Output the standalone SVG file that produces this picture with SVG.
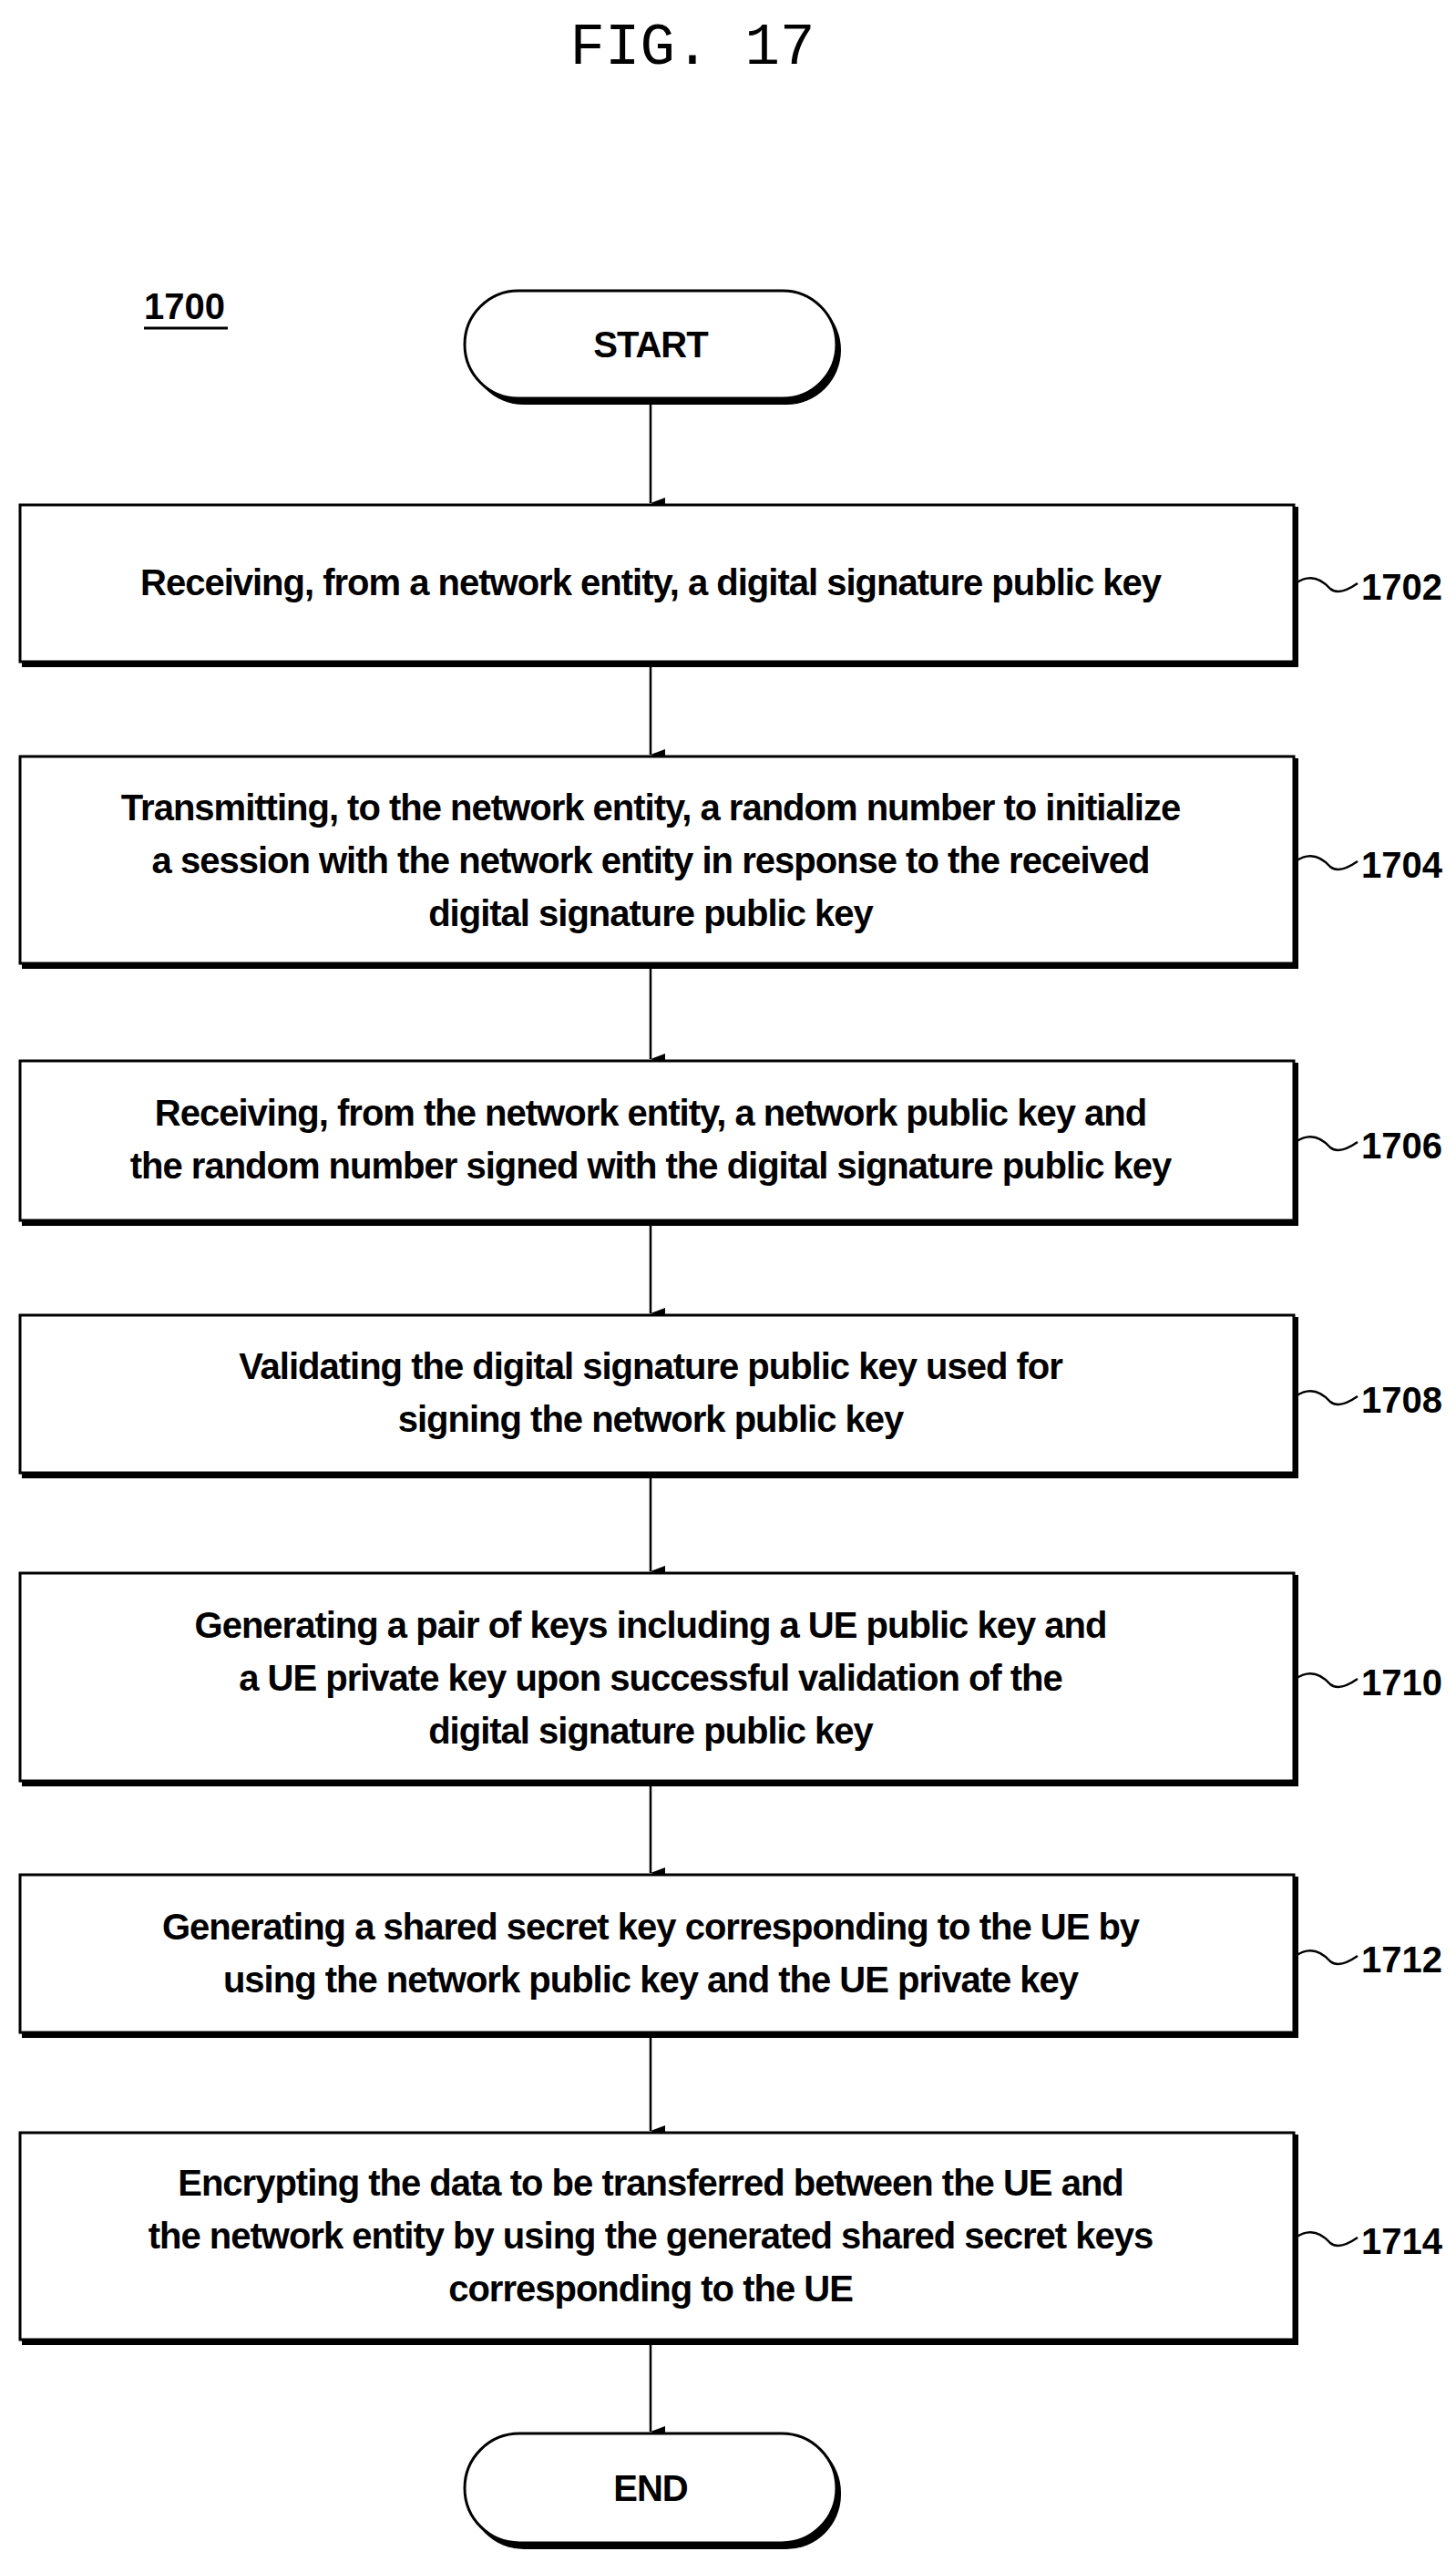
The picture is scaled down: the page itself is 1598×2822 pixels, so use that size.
<svg xmlns="http://www.w3.org/2000/svg" width="1598" height="2822" viewBox="0 0 1598 2822">
<style>
.b{fill:#fff;stroke:#000;stroke-width:3}
.s{fill:#000}
.t{font-family:"Liberation Sans",Arial,sans-serif;font-size:40px;fill:#000;text-anchor:middle;font-weight:bold;letter-spacing:-1px}
.l{font-family:"Liberation Sans",Arial,sans-serif;font-size:40px;fill:#000;font-weight:bold}
.c{fill:none;stroke:#000;stroke-width:2.5}
</style>
<defs><marker id="a" markerWidth="12" markerHeight="16" refX="6" refY="16" orient="auto-start-reverse" markerUnits="userSpaceOnUse" viewBox="0 0 12 16"><path d="M0,0 L12,0 L6,16 Z" fill="#000"/></marker></defs>
<rect width="1598" height="2822" fill="#fff"/>
<text x="760" y="70" font-family="Liberation Mono,monospace" font-size="64" text-anchor="middle">FIG. 17</text>
<g id="ref1700"><text class="l" x="158" y="350">1700</text><line x1="158" y1="360" x2="250" y2="360" stroke="#000" stroke-width="3"/></g>
<g id="connectors">
<line class="c" x1="714" y1="440" x2="714" y2="552" marker-end="url(#a)"/>
<line class="c" x1="714" y1="730" x2="714" y2="828" marker-end="url(#a)"/>
<line class="c" x1="714" y1="1062" x2="714" y2="1162" marker-end="url(#a)"/>
<line class="c" x1="714" y1="1343" x2="714" y2="1441" marker-end="url(#a)"/>
<line class="c" x1="714" y1="1621" x2="714" y2="1724" marker-end="url(#a)"/>
<line class="c" x1="714" y1="1959" x2="714" y2="2055" marker-end="url(#a)"/>
<line class="c" x1="714" y1="2235" x2="714" y2="2338" marker-end="url(#a)"/>
<line class="c" x1="714" y1="2572" x2="714" y2="2668" marker-end="url(#a)"/>
</g>
<g id="start"><rect class="s" x="515" y="324" width="408" height="120" rx="60"/><rect class="b" x="510" y="319" width="408" height="118" rx="59"/><text class="t" x="714" y="392">START</text></g>
<g id="n1702"><rect class="s" x="24" y="556" width="1401" height="176"/><rect class="b" x="22" y="554" width="1398" height="172"/><text class="t" x="714" y="653">Receiving, from a network entity, a digital signature public key</text><path class="c" d="M1422,640 q20,-14 38,6 q10,8 30,-6"/><text class="l" x="1494" y="658">1702</text></g>
<g id="n1704"><rect class="s" x="24" y="832" width="1401" height="231"/><rect class="b" x="22" y="830" width="1398" height="227"/><text class="t" x="714" y="900">Transmitting, to the network entity, a random number to initialize</text><text class="t" x="714" y="958">a session with the network entity in response to the received</text><text class="t" x="714" y="1016">digital signature public key</text><path class="c" d="M1422,945 q20,-14 38,6 q10,8 30,-6"/><text class="l" x="1494" y="963">1704</text></g>
<g id="n1706"><rect class="s" x="24" y="1166" width="1401" height="179"/><rect class="b" x="22" y="1164" width="1398" height="175"/><text class="t" x="714" y="1235">Receiving, from the network entity, a network public key and</text><text class="t" x="714" y="1293">the random number signed with the digital signature public key</text><path class="c" d="M1422,1253 q20,-14 38,6 q10,8 30,-6"/><text class="l" x="1494" y="1271">1706</text></g>
<g id="n1708"><rect class="s" x="24" y="1445" width="1401" height="177"/><rect class="b" x="22" y="1443" width="1398" height="173"/><text class="t" x="714" y="1513">Validating the digital signature public key used for</text><text class="t" x="714" y="1571">signing the network public key</text><path class="c" d="M1422,1532 q20,-14 38,6 q10,8 30,-6"/><text class="l" x="1494" y="1550">1708</text></g>
<g id="n1710"><rect class="s" x="24" y="1728" width="1401" height="232"/><rect class="b" x="22" y="1726" width="1398" height="228"/><text class="t" x="714" y="1797">Generating a pair of keys including a UE public key and</text><text class="t" x="714" y="1855">a UE private key upon successful validation of the</text><text class="t" x="714" y="1913">digital signature public key</text><path class="c" d="M1422,1842 q20,-14 38,6 q10,8 30,-6"/><text class="l" x="1494" y="1860">1710</text></g>
<g id="n1712"><rect class="s" x="24" y="2059" width="1401" height="177"/><rect class="b" x="22" y="2057" width="1398" height="173"/><text class="t" x="714" y="2128">Generating a shared secret key corresponding to the UE by</text><text class="t" x="714" y="2186">using the network public key and the UE private key</text><path class="c" d="M1422,2146 q20,-14 38,6 q10,8 30,-6"/><text class="l" x="1494" y="2164">1712</text></g>
<g id="n1714"><rect class="s" x="24" y="2342" width="1401" height="231"/><rect class="b" x="22" y="2340" width="1398" height="227"/><text class="t" x="714" y="2409">Encrypting the data to be transferred between the UE and</text><text class="t" x="714" y="2467">the network entity by using the generated shared secret keys</text><text class="t" x="714" y="2525">corresponding to the UE</text><path class="c" d="M1422,2455 q20,-14 38,6 q10,8 30,-6"/><text class="l" x="1494" y="2473">1714</text></g>
<g id="end"><rect class="s" x="515" y="2675" width="408" height="122" rx="60"/><rect class="b" x="510" y="2670" width="408" height="120" rx="60"/><text class="t" x="714" y="2744">END</text></g>
</svg>
